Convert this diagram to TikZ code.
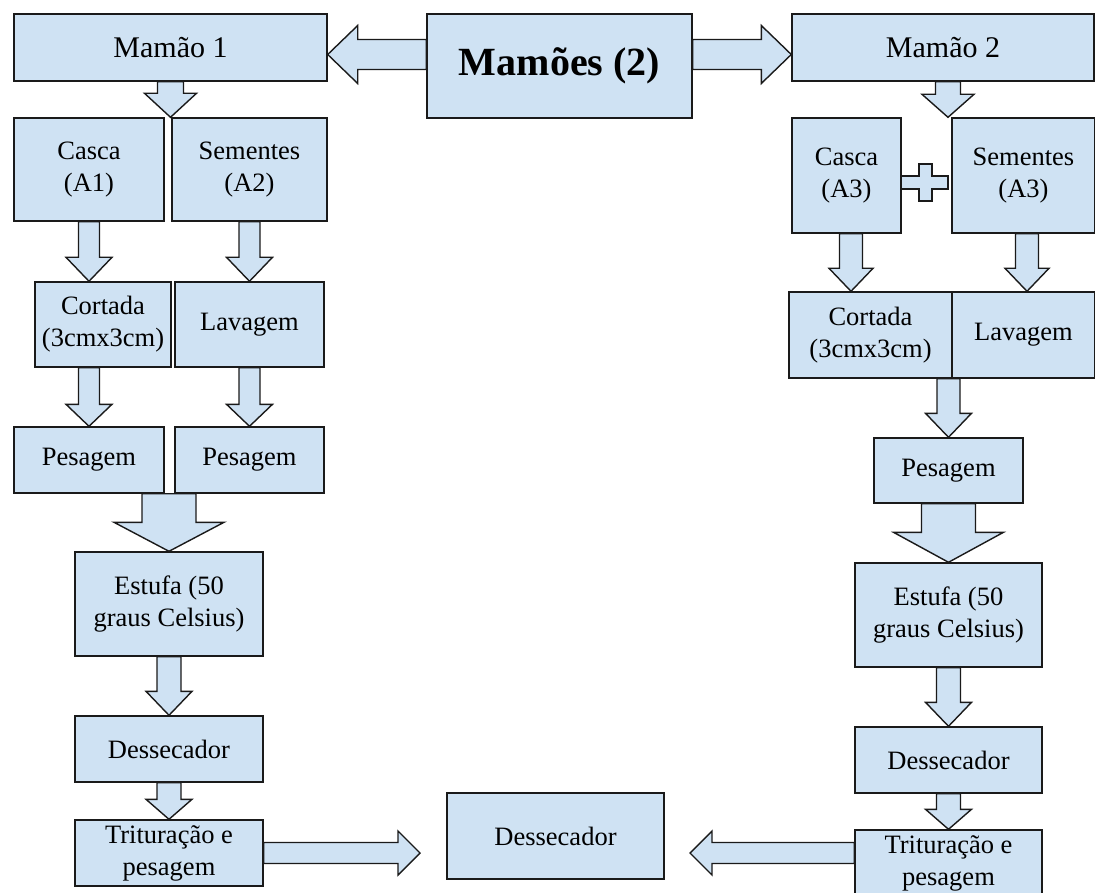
\documentclass[tikz,border=0pt]{standalone}
\usepackage{fontspec}
\setmainfont{Liberation Serif}
\usetikzlibrary{calc,positioning}
\definecolor{boxblue}{HTML}{CFE2F3}
\definecolor{boxline}{HTML}{1A1A1A}

% block arrow from #1 to #2: shaft half width, head half width, head length
\newcommand{\barrow}[5]{%
  \coordinate (hb) at ($(#2)!#5!(#1)$);
  \draw[blockarrow] ($(#1)!#3!90:(#2)$) -- ($(hb)!#3!90:(#2)$) -- ($(hb)!#4!90:(#2)$) -- (#2)
    -- ($(hb)!#4!-90:(#2)$) -- ($(hb)!#3!-90:(#2)$) -- ($(#1)!#3!-90:(#2)$) -- cycle;}

\begin{document}
\begin{tikzpicture}[x=1pt,y=-1pt,
  box/.style={draw=boxline,fill=boxblue,line width=1.4pt,inner sep=0pt,align=center,
    font=\fontsize{26.5}{32}\selectfont},
  blockarrow/.style={draw=boxline,fill=boxblue,line width=1.4pt,line join=miter}]
\useasboundingbox (0,0) rectangle (1095,893);
\clip (0,0) rectangle (1095,893);

% top row
\node[box,minimum width=265pt,minimum height=104pt,font=\fontsize{40}{48}\selectfont\bfseries] (m0) at (559.5,66) {Mamões (2)};
\node[box,minimum width=313pt,minimum height=67pt,font=\fontsize{30}{36}\selectfont] (m1) at (170.5,47.5) {Mamão 1};
\node[box,minimum width=302pt,minimum height=67pt,font=\fontsize{30}{36}\selectfont] (m2) at (943,47.5) {Mamão 2};

% left column
\node[box,minimum width=150pt,minimum height=103pt] (cas1) at (89,169.5) {Casca\\(A1)};
\node[box,minimum width=155pt,minimum height=103pt] (sem1) at (249.5,169.5) {Sementes\\(A2)};
\node[box,minimum width=136pt,minimum height=85pt] (cor1) at (103,324.5) {Cortada\\(3cmx3cm)};
\node[box,minimum width=149pt,minimum height=85pt] (lav1) at (249.5,324.5) {Lavagem};
\node[box,minimum width=150pt,minimum height=66pt] (pes1) at (89,460) {Pesagem};
\node[box,minimum width=149pt,minimum height=66pt] (pes2) at (249.5,460) {Pesagem};
\node[box,minimum width=188pt,minimum height=104pt] (est1) at (169,604) {Estufa (50\\graus Celsius)};
\node[box,minimum width=188pt,minimum height=66pt] (des1) at (169,749) {Dessecador};
\node[box,minimum width=188pt,minimum height=66pt] (tri1) at (169,853) {Trituração e\\pesagem};

% middle
\node[box,minimum width=217pt,minimum height=86pt] (desc) at (555.5,836) {Dessecador};

% right column
\node[box,minimum width=109pt,minimum height=115pt] (cas2) at (846.5,175.5) {Casca\\(A3)};
\node[box,minimum width=143pt,minimum height=115pt] (sem2) at (1023.5,175.5) {Sementes\\(A3)};
\node[box,minimum width=163pt,minimum height=86pt] (cor2) at (870.5,335) {Cortada\\(3cmx3cm)};
\node[box,minimum width=143pt,minimum height=86pt] (lav2) at (1023.5,335) {Lavagem};
\node[box,minimum width=149pt,minimum height=65pt] (pes3) at (948.5,470.5) {Pesagem};
\node[box,minimum width=187pt,minimum height=104pt] (est2) at (948.5,615) {Estufa (50\\graus Celsius)};
\node[box,minimum width=187pt,minimum height=66pt] (des2) at (948.5,760) {Dessecador};
\node[box,minimum width=187pt,minimum height=66pt] (tri2) at (948.5,863) {Trituração e\\pesagem};

% helper coordinates
\coordinate (ya) at (0,54.5);
\coordinate (x2) at (948,0);
\coordinate (xa) at (851,0);
\coordinate (xb) at (1027,0);
\coordinate (e1) at (420,853);
\coordinate (e2) at (690,853);

% arrows
\barrow{m0.west |- ya}{m1.east |- ya}{15pt}{29pt}{30pt}
\barrow{m0.east |- ya}{m2.west |- ya}{15pt}{29pt}{30pt}
\barrow{m1.south}{m1.south |- cas1.north}{13pt}{26pt}{24pt}
\barrow{x2 |- m2.south}{x2 |- sem2.north}{12.5pt}{26pt}{23pt}

\barrow{cas1.south}{cas1.south |- cor1.north}{10.5pt}{23pt}{24pt}
\barrow{sem1.south}{sem1.south |- lav1.north}{10.5pt}{23pt}{24pt}
\barrow{pes1.north |- cor1.south}{pes1.north}{10.5pt}{23pt}{22pt}
\barrow{pes2.north |- lav1.south}{pes2.north}{10.5pt}{23pt}{22pt}
\barrow{est1.north |- pes1.south}{est1.north}{27pt}{55pt}{29pt}
\barrow{est1.south}{des1.north}{12pt}{23pt}{24pt}
\barrow{des1.south}{tri1.north}{12pt}{23pt}{20pt}
\barrow{tri1.east}{e1}{10.5pt}{22pt}{22pt}

\barrow{xa |- cas2.south}{xa |- cor2.north}{11.5pt}{22pt}{23pt}
\barrow{xb |- sem2.south}{xb |- lav2.north}{11.5pt}{22pt}{23pt}
\barrow{pes3.north |- cor2.south}{pes3.north}{11.5pt}{23pt}{24pt}
\barrow{est2.north |- pes3.south}{est2.north}{27pt}{55pt}{30pt}
\barrow{est2.south}{des2.north}{12pt}{23pt}{24pt}
\barrow{des2.south}{tri2.north}{12pt}{23pt}{20pt}
\barrow{tri2.west |- e2}{e2}{10.5pt}{22pt}{22pt}

% plus sign between the two parts
\draw[blockarrow] (901,176) -- (919,176) -- (919,164) -- (932,164) -- (932,176) -- (948,176)
  -- (948,189) -- (932,189) -- (932,201) -- (919,201) -- (919,189) -- (901,189) -- cycle;
\end{tikzpicture}
\end{document}
